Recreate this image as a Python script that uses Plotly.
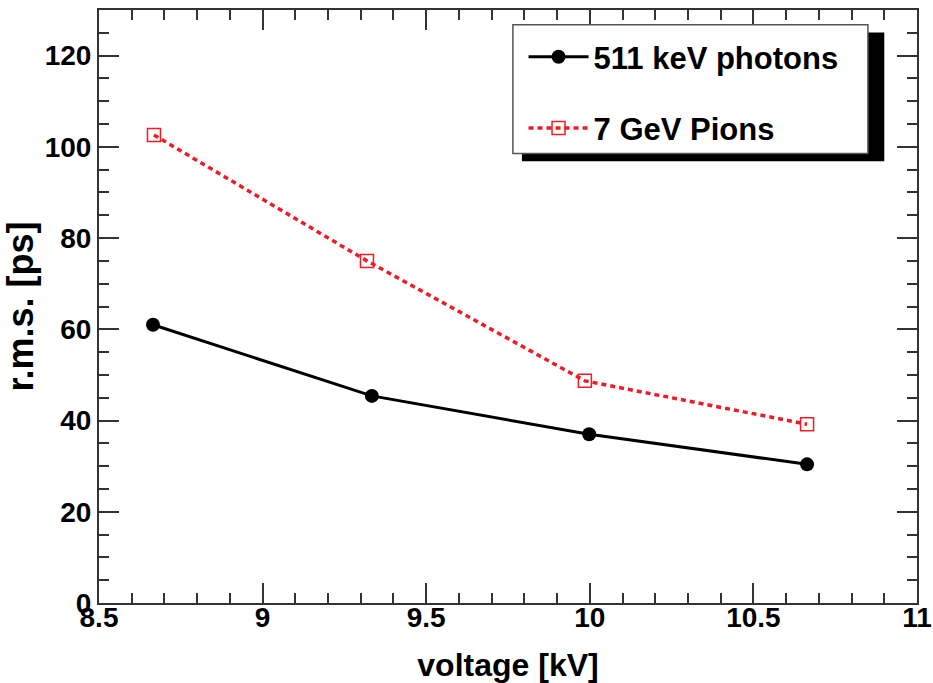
import plotly.graph_objects as go

# Timing resolution (r.m.s.) versus applied voltage
photon_voltage = [8.665, 9.334, 9.998, 10.664]
photon_rms = [61.0, 45.4, 37.0, 30.4]

pion_voltage = [8.668, 9.319, 9.985, 10.664]
pion_rms = [102.6, 75.0, 48.7, 39.2]

series_names = ["511 keV photons", "7 GeV Pions"]

FONT = "Liberation Sans, Arial, Helvetica, sans-serif"
RED = "#ee1c24"

fig = go.Figure()

fig.add_trace(go.Scatter(
    x=photon_voltage, y=photon_rms, name=series_names[0],
    mode="lines+markers", legendgroup="a",
    line=dict(color="black", width=3),
    marker=dict(symbol="circle", size=14, color="black"),
))
fig.add_trace(go.Scatter(
    x=pion_voltage, y=pion_rms, name=series_names[1],
    mode="lines+markers", legendgroup="b",
    line=dict(color=RED, width=3.5, dash="5px,4px"),
    marker=dict(symbol="square-open", size=13, color=RED,
                line=dict(width=1.5, color=RED)),
))

axis_common = dict(
    showgrid=False, zeroline=False, automargin=False,
    showline=True, linecolor="#333333", linewidth=2,
    mirror="ticks", ticks="inside", tickcolor="#333333",
    tickwidth=2,
    tickfont=dict(family=FONT, size=28, color="black", weight="bold"),
)

fig.update_xaxes(
    range=[8.5, 11], dtick=0.5, tick0=8.5, ticklen=20,
    tickformat="~g", ticklabelstandoff=-12,
    minor=dict(dtick=0.1, ticks="inside", ticklen=10, tickcolor="#333333", tickwidth=2),
    title=dict(text="voltage [kV]", standoff=26,
               font=dict(family=FONT, size=32, color="black", weight="bold")),
    **axis_common,
)
fig.update_yaxes(
    range=[0, 130], dtick=20, tick0=0, ticklen=20,
    minor=dict(dtick=5, ticks="inside", ticklen=10, tickcolor="#333333", tickwidth=2),
    title=dict(text="r.m.s. [ps]", standoff=2,
               font=dict(family=FONT, size=36, color="black", weight="bold")),
    **axis_common,
)

# Legend frame with a drop shadow
fig.add_shape(type="rect", xref="paper", yref="paper",
              x0=0.517, x1=0.960, y0=0.745, y1=0.962,
              fillcolor="black", line=dict(width=0), layer="above")
fig.add_shape(type="rect", xref="paper", yref="paper",
              x0=0.506, x1=0.940, y0=0.758, y1=0.975,
              fillcolor="white", line=dict(color="#555555", width=1.5), layer="above")

fig.update_layout(
    width=933, height=683,
    margin=dict(l=99, r=16, t=10, b=80),
    paper_bgcolor="white", plot_bgcolor="white",
    showlegend=True,
    legend=dict(
        x=0.519, y=0.966, xanchor="left", yanchor="top",
        bgcolor="rgba(0,0,0,0)", borderwidth=0,
        tracegroupgap=28, itemwidth=60,
        font=dict(family=FONT, size=31, color="black", weight="bold"),
    ),
)

fig.write_html("out.html")
